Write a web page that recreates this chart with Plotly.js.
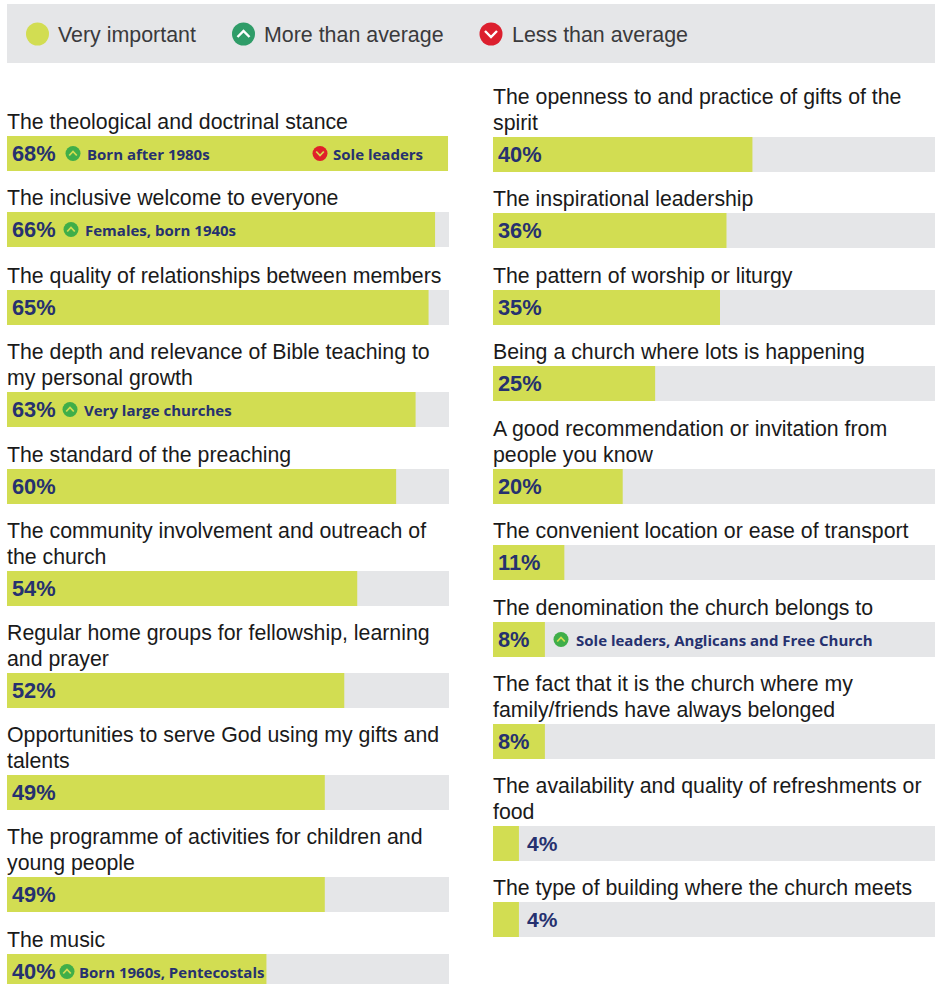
<!DOCTYPE html>
<html>
<head>
<meta charset="utf-8">
<script src="https://cdn.plot.ly/plotly-3.0.1.min.js"></script>
<style>html,body{margin:0;padding:0;background:#fff;overflow:hidden}#c{width:935px;height:984px}</style>
</head>
<body>
<div id="c"></div>
<script>
// ---- data ----
const leftCategories = [
  "The theological and doctrinal stance",
  "The inclusive welcome to everyone",
  "The quality of relationships between members",
  "The depth and relevance of Bible teaching to<br>my personal growth",
  "The standard of the preaching",
  "The community involvement and outreach of<br>the church",
  "Regular home groups for fellowship, learning<br>and prayer",
  "Opportunities to serve God using my gifts and<br>talents",
  "The programme of activities for children and<br>young people",
  "The music"
];
const leftValues = [68, 66, 65, 63, 60, 54, 52, 49, 49, 40];
const rightCategories = [
  "The openness to and practice of gifts of the<br>spirit",
  "The inspirational leadership",
  "The pattern of worship or liturgy",
  "Being a church where lots is happening",
  "A good recommendation or invitation from<br>people you know",
  "The convenient location or ease of transport",
  "The denomination the church belongs to",
  "The fact that it is the church where my<br>family/friends have always belonged",
  "The availability and quality of refreshments or<br>food",
  "The type of building where the church meets"
];
const rightValues = [40, 36, 35, 25, 20, 11, 8, 8, 4, 4];
const legendLabels = ["Very important", "More than average", "Less than average"];

// badges: column, row, direction, label
const badgeColumns = ["x","x","x","x","x","x2"];
const badgeRows = [0,0,1,3,9,6];
const badgeDirections = ["up","down","up","up","up","up"];
const badgeLabels = ["Born after 1980s","Sole leaders","Females, born 1940s","Very large churches","Born 1960s, Pentecostals","Sole leaders, Anglicans and Free Church"];

// ---- layout (pixels) ----
const W = 935, H = 984;
const MAXV = 68.15, BAR_H = 35;
const colL = [7, 449], colR = [493, 935];
const leftTops = [136,212,290,392,469,571,673,775,877,954];
const rightTops = [137,213,290,366,469,545,622,724,826,902];
const badgeIconX = [73,320,71,70,67,561];
const badgeTextX = [87,333,85,84,79,576];
const pxPerPct = (colL[1]-colL[0])/MAXV;
const pxToX = (px, col) => (px - col[0]) / pxPerPct;

const TRACK = "#e5e6e8", LIME = "#d2dd52", NAVY = "#26316f", INK = "#1a1a1a";
const traces = [], ann = [];

function column(cats, vals, tops, col, xa) {
  const ys = tops.map(t => t + BAR_H/2);
  traces.push({type:"bar",orientation:"h",x:vals.map(v=>v>=68?v:MAXV),y:ys,width:BAR_H,marker:{color:TRACK,line:{width:0}},xaxis:xa,yaxis:"y",hoverinfo:"skip"});
  traces.push({type:"bar",orientation:"h",x:vals,y:ys,width:BAR_H,marker:{color:LIME,line:{width:0}},xaxis:xa,yaxis:"y",name:"Very important"});
  cats.forEach((c,i)=>{
    const lines = c.split("<br>");
    lines.forEach((ln,k)=>{
      ann.push({xref:xa,yref:"y",x:0,y:tops[i]-14-25.7*(lines.length-1-k),text:ln,showarrow:false,xanchor:"left",yanchor:"middle",
        font:{family:"Liberation Sans, Arial, sans-serif",size:21.3,color:INK},borderpad:0,xshift:-1});
    });
    const small = vals[i] < 8;
    ann.push({xref:xa,yref:"y",x:pxToX(col[0]+(small?34:5),col),y:ys[i],text:"<b>"+vals[i]+"%</b>",showarrow:false,xanchor:"left",yanchor:"middle",
      font:{family:"Liberation Sans, Arial, sans-serif",size:small?21:21.8,color:NAVY},borderpad:0,xshift:-1});
  });
}
column(leftCategories,leftValues,leftTops,colL,"x");
column(rightCategories,rightValues,rightTops,colR,"x2");

// badges
["x","x2"].forEach(xa=>{
  const col = xa==="x"?colL:colR, tops = xa==="x"?leftTops:rightTops;
  ["up","down"].forEach(dir=>{
    const idx = badgeLabels.map((_,i)=>i).filter(i=>badgeColumns[i]===xa && badgeDirections[i]===dir);
    if(!idx.length) return;
    const color = dir==="up"?"#3fae49":"#e0202a";
    const cx = idx.map(i=>pxToX(badgeIconX[i],col));
    const cy = idx.map(i=>tops[badgeRows[i]]+BAR_H/2);
    traces.push({type:"scatter",mode:"markers",x:cx,y:cy,xaxis:xa,yaxis:"y",marker:{symbol:"circle",size:15,color:color,line:{width:0}},hoverinfo:"skip"});
    const lx=[],ly=[], s = dir==="up"?1:-1;
    cx.forEach((v,k)=>{
      lx.push(v-3.8/pxPerPct,v,v+3.8/pxPerPct,null);
      ly.push(cy[k]+s*2,cy[k]-s*2,cy[k]+s*2,null);
    });
    traces.push({type:"scatter",mode:"lines",x:lx,y:ly,xaxis:xa,yaxis:"y",line:{color:LIME,width:1.8},hoverinfo:"skip",connectgaps:false});
  });
  badgeLabels.forEach((t,i)=>{
    if(badgeColumns[i]!==xa) return;
    ann.push({xref:xa,yref:"y",x:pxToX(badgeTextX[i],col),y:tops[badgeRows[i]]+BAR_H/2,text:"<b>"+t+"</b>",showarrow:false,xanchor:"left",yanchor:"middle",
      font:{family:"Open Sans, sans-serif",size:15,color:NAVY},borderpad:0,xshift:-1});
  });
});

// legend
const legendIconX = [37.5,243.5,491], legendTextX=[58,264,512], legendColors=["#d2dd52","#2f9c68","#dc1f2e"], LEG_Y=34;
const legendShapes = [{type:"rect",xref:"paper",yref:"y",x0:7/W,x1:1,y0:4,y1:63,fillcolor:TRACK,line:{width:0},layer:"below"}];
legendLabels.forEach((t,i)=>{
  ann.push({xref:"paper",yref:"y",x:legendTextX[i]/W,y:LEG_Y+1,text:t,showarrow:false,xanchor:"left",yanchor:"middle",
    font:{family:"Liberation Sans, Arial, sans-serif",size:21.4,color:"#3a3a3c"},borderpad:0,xshift:-1});
});
const paperAxis = {domain:[0,1],range:[0,W],visible:false,fixedrange:true};
traces.push({type:"scatter",mode:"markers",x:legendIconX,y:legendIconX.map(()=>LEG_Y),xaxis:"x3",yaxis:"y",marker:{symbol:"circle",size:23,color:legendColors,line:{width:0}},hoverinfo:"skip"});
const chevX=[legendIconX[1]-6,legendIconX[1],legendIconX[1]+6,null,legendIconX[2]-6,legendIconX[2],legendIconX[2]+6];
const chevY=[LEG_Y+3,LEG_Y-3,LEG_Y+3,null,LEG_Y-3,LEG_Y+3,LEG_Y-3];
traces.push({type:"scatter",mode:"lines",x:chevX,y:chevY,xaxis:"x3",yaxis:"y",line:{color:"#ffffff",width:2.4},hoverinfo:"skip"});

const axis = d => ({domain:d,range:[0,MAXV],visible:false,fixedrange:true,anchor:"y"});
Plotly.newPlot("c",traces,{
  width:W,height:H,margin:{l:0,r:0,t:0,b:0,pad:0},
  paper_bgcolor:"#fff",plot_bgcolor:"rgba(0,0,0,0)",
  showlegend:false,barmode:"overlay",
  xaxis:axis([colL[0]/W,colL[1]/W]),
  xaxis2:axis([colR[0]/W,colR[1]/W]),
  xaxis3:Object.assign({anchor:"y"},paperAxis),
  yaxis:{domain:[0,1],range:[H,0],visible:false,fixedrange:true},
  shapes:legendShapes,annotations:ann
},{displayModeBar:false,staticPlot:true});
</script>
</body>
</html>
